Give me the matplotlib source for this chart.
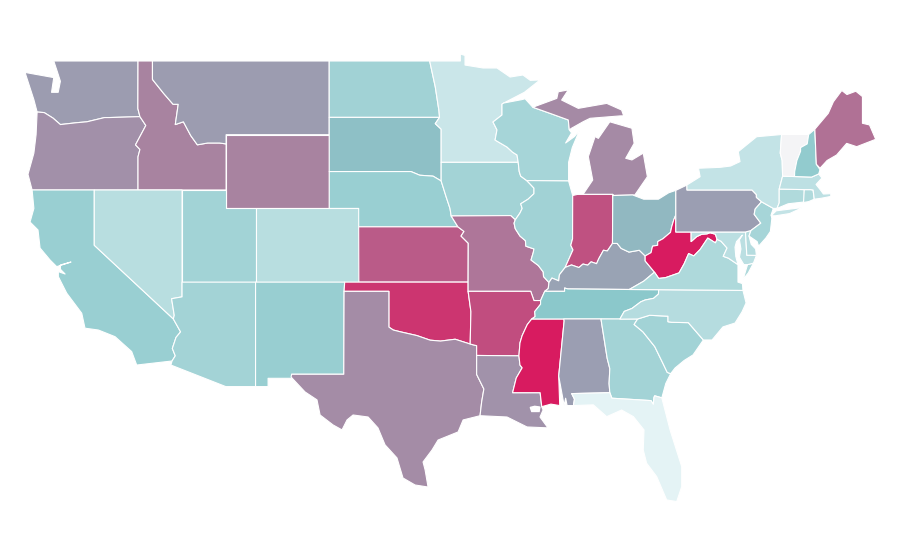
import matplotlib
matplotlib.use("Agg")
import matplotlib.pyplot as plt
from matplotlib.collections import PolyCollection
from matplotlib.colors import LinearSegmentedColormap, Normalize

# -- values per state --
state_names = ["WA", "OR", "CA", "ID", "NV", "MT", "WY", "UT", "AZ", "CO", "NM",
               "ND", "SD", "NE", "KS", "OK", "TX", "MN", "IA", "MO", "AR", "LA",
               "WI", "IL", "MS", "MI", "IN", "KY", "TN", "AL", "OH", "WV", "GA",
               "FL", "SC", "NC", "VA", "MD", "DE", "PA", "NJ", "NY", "CT", "RI",
               "MA", "VT", "NH", "ME"]
state_values = [0.51, 0.557, 0.347, 0.606, 0.229, 0.51, 0.606, 0.316, 0.31, 0.229, 0.35,
                0.32, 0.42, 0.347, 0.754, 0.90, 0.574, 0.164, 0.31, 0.656, 0.81, 0.55,
                0.30, 0.32, 1.0, 0.58, 0.795, 0.49, 0.40, 0.50, 0.44, 1.0, 0.31,
                0.06, 0.316, 0.24, 0.267, 0.217, 0.24, 0.50, 0.30, 0.187, 0.26, 0.26,
                0.21, 0.0, 0.373, 0.672]

# -- shared borders (lon, lat) --
mn_wi = [(-92.2,46.72),(-92.32,46.66),(-92.32,46.07),(-92.93,45.69),(-92.66,45.26),(-92.79,44.71),
         (-91.98,44.33),(-91.6,44.05),(-91.3,43.9),(-91.22,43.5)]
wi_ia = [(-91.22,43.5),(-91.15,43.0),(-91.05,42.75),(-90.64,42.51)]
il_ia = [(-90.64,42.51),(-90.42,42.33),(-90.15,42.1),(-90.15,41.8),(-90.55,41.5),(-91.05,41.25),
         (-90.95,41.0),(-91.1,40.75),(-91.42,40.38)]
il_mo = [(-91.42,40.38),(-91.5,40.2),(-91.42,39.9),(-91.1,39.5),(-90.73,39.25),(-90.7,38.95),
         (-90.15,38.8),(-90.2,38.6),(-90.35,38.2),(-89.85,37.9),(-89.52,37.55),(-89.5,37.3),(-89.13,36.98)]
ky_mo = [(-89.13,36.98),(-89.18,36.65),(-89.42,36.5)]
tn_mo = [(-89.42,36.5),(-89.7,36.0)]
tn_ar = [(-89.7,36.0),(-89.7,35.8),(-90.1,35.4),(-90.07,35.13),(-90.3,35.0)]
ms_ar = [(-90.3,35.0),(-90.6,34.7),(-90.95,34.1),(-91.1,33.7),(-91.17,33.0)]
ms_la = [(-91.17,33.0),(-91.1,32.5),(-90.95,32.35),(-91.35,31.8),(-91.6,31.0),(-89.73,31.0),(-89.62,30.24)]
il_ky = [(-89.13,36.98),(-88.93,37.22),(-88.47,37.07),(-88.42,37.4),(-88.03,37.8)]
in_ky = [(-88.03,37.8),(-87.6,37.93),(-87.1,37.79),(-86.82,37.98),(-86.5,37.92),(-86.27,38.1),
         (-85.9,38.0),(-85.75,38.27),(-85.43,38.73),(-85.17,38.69),(-84.82,39.1)]
oh_ky = [(-84.82,39.1),(-84.5,39.1),(-84.23,38.83),(-83.7,38.63),(-83.0,38.73),(-82.6,38.42)]
oh_wv = [(-82.6,38.42),(-82.2,38.6),(-82.1,38.95),(-81.75,39.0),(-81.75,39.2),(-81.4,39.35),
         (-80.88,39.7),(-80.8,40.0),(-80.65,40.4),(-80.52,40.64)]
ky_wv = [(-82.6,38.42),(-82.6,38.15),(-81.97,37.54)]
ky_va = [(-81.97,37.54),(-82.7,37.05),(-83.68,36.6)]
va_wv = [(-81.97,37.54),(-81.68,37.2),(-81.23,37.24),(-80.3,37.5),(-79.95,38.0),(-79.65,38.55),
         (-79.3,38.42),(-78.87,38.77),(-78.35,39.39),(-77.83,39.13),(-77.72,39.32)]
md_va = [(-77.72,39.32),(-77.45,39.22),(-77.04,38.85),(-77.3,38.4),(-76.95,38.3),(-76.3,37.95)]
md_wv = [(-79.48,39.72),(-79.48,39.2),(-79.1,39.47),(-78.75,39.6),(-78.4,39.62),(-78.2,39.68),
         (-77.83,39.6),(-77.72,39.32)]
nc_tn = [(-81.68,36.59),(-81.7,36.35),(-82.03,36.12),(-82.6,36.03),(-82.9,35.93),(-83.5,35.57),
         (-84.02,35.41),(-84.32,34.99)]
tn_north = [(-89.42,36.5),(-88.07,36.5),(-88.07,36.68),(-87.85,36.63),(-83.68,36.6),(-81.68,36.59)]
al_ga = [(-85.6,35.0),(-85.18,32.87),(-85.0,32.3),(-85.05,31.5),(-85.0,31.0)]
ga_fl = [(-85.0,31.0),(-84.86,30.7),(-82.2,30.57),(-82.05,30.37),(-82.0,30.75),(-81.95,30.83),(-81.47,30.72)]
ms_al = [(-88.13,35.0),(-88.1,34.9),(-88.47,31.9),(-88.4,30.3)]
al_fl = [(-87.47,30.3),(-87.4,30.65),(-87.59,30.95),(-85.0,31.0)]
ga_sc = [(-83.11,35.0),(-83.35,34.7),(-82.75,34.3),(-81.95,33.5),(-81.4,32.6),(-81.1,32.1),(-80.87,32.03)]
sc_nc = [(-83.11,35.0),(-82.3,35.2),(-81.05,35.15),(-81.05,34.85),(-80.8,34.82),(-79.67,34.8),(-78.65,33.86)]
ok_tx = [(-100.0,34.56),(-99.7,34.4),(-99.2,34.3),(-98.1,34.1),(-97.2,33.85),(-96.5,33.8),(-95.5,33.9),(-94.48,33.64)]
la_tx = [(-94.04,33.02),(-94.04,31.99),(-93.55,31.2),(-93.7,30.5),(-93.81,29.75)]
ks_mo = [(-95.31,40.0),(-94.9,39.75),(-95.1,39.5),(-94.61,39.11),(-94.62,37.0)]
ia_ne = [(-96.45,42.49),(-96.1,41.6),(-95.85,41.0),(-95.77,40.59)]
ne_sd = [(-104.05,43.0),(-98.5,43.0),(-97.9,42.8),(-97.0,42.75),(-96.45,42.49)]
mn_dk = [(-97.23,49.0),(-96.85,47.6),(-96.6,46.3),(-96.56,45.94),(-96.85,45.6),(-96.45,45.3),(-96.45,43.5)]
id_mt = [(-116.05,49.0),(-116.05,48.0),(-115.3,47.25),(-114.65,46.65),(-114.3,46.65),(-114.5,45.55),
         (-113.95,45.7),(-113.45,44.95),(-113.0,44.45),(-112.3,44.55),(-111.5,44.55),(-111.05,44.5)]
or_id = [(-117.03,42.0),(-117.03,43.8),(-116.9,44.2),(-117.2,44.45),(-116.5,45.5),(-116.9,45.98)]
or_wa = [(-116.9,45.98),(-119.0,45.93),(-119.3,45.93),(-120.5,45.7),(-121.2,45.65),(-122.3,45.55),
         (-122.8,45.9),(-123.4,46.2),(-123.88,46.23)]
az_ca = [(-114.63,35.0),(-114.14,34.3),(-114.45,34.0),(-114.7,33.4),(-114.5,33.0),(-114.72,32.72)]
az_nv = [(-114.04,37.0),(-114.04,36.2),(-114.75,36.1),(-114.57,35.2),(-114.63,35.0)]
il_wi_east = [(-87.8,42.49),(-87.52,41.7)]
il_in = [(-87.52,41.7),(-87.53,39.35),(-87.65,39.0),(-87.5,38.75),(-88.03,37.8)]
pa_east = [(-75.35,42.0),(-75.05,41.75),(-75.05,41.6),(-74.7,41.36)]
pa_nj = [(-74.7,41.36),(-75.13,40.97),(-75.2,40.68),(-74.75,40.2),(-75.42,39.8)]
ny_vt = [(-73.27,42.75),(-73.3,43.6),(-73.43,44.0),(-73.34,45.01)]
vt_nh = [(-71.5,45.01),(-71.6,44.5),(-72.05,44.3),(-72.05,44.1),(-72.3,43.6),(-72.45,43.0),(-72.46,42.73)]


def rev(line):
    return line[::-1]


# -- state outlines, one or more rings each --
shapes = {
    "WA": [[(-122.75,49.0),(-117.03,49.0),(-117.04,46.42)] + or_wa + [(-124.1,46.9),(-124.7,48.38),
           (-123.1,48.15),(-122.75,48.1),(-122.9,47.3),(-122.45,47.3),(-122.3,47.9),(-122.5,48.4)]],
    "OR": [or_id + or_wa + [(-123.95,45.0),(-124.1,44.0),(-124.5,42.85),(-124.22,42.0)]],
    "CA": [[(-124.22,42.0),(-120.0,42.0),(-120.0,39.0)] + az_ca + [(-117.12,32.5),(-117.46,33.23),(-118.59,34.04),
           (-119.72,34.4),(-120.63,34.5),(-120.85,35.31),(-121.87,36.4),(-122.44,37.3),(-122.44,37.57),
           (-121.98,37.44),(-122.3,37.7),(-122.3,37.93),(-121.58,38.09),(-122.55,37.84),(-123.0,38.2),
           (-123.68,38.85),(-123.82,39.83),(-124.36,40.26),(-124.1,41.0)]],
    "ID": [id_mt + [(-111.05,42.0)] + or_id + [(-117.04,46.42),(-117.03,49.0)]],
    "NV": [[(-120.0,42.0),(-114.04,42.0)] + az_nv + [(-120.0,39.0)]],
    "MT": [id_mt + [(-111.05,45.0),(-104.05,45.0),(-104.05,49.0)]],
    "WY": [[(-111.05,45.0),(-104.05,45.0),(-104.05,41.0),(-111.05,41.0)]],
    "UT": [[(-114.04,42.0),(-111.05,42.0),(-111.05,41.0),(-109.05,41.0),(-109.05,37.0),(-114.04,37.0)]],
    "AZ": [az_nv + az_ca[1:] + [(-114.8,32.5),(-111.07,31.33),(-109.05,31.33),(-109.05,37.0)]],
    "CO": [[(-109.05,41.0),(-102.05,41.0),(-102.05,37.0),(-109.05,37.0)]],
    "NM": [[(-109.05,37.0),(-103.0,37.0),(-103.04,36.5),(-103.06,32.0),(-106.6,32.0),(-106.5,31.78),
            (-108.2,31.78),(-108.2,31.33),(-109.05,31.33)]],
    "ND": [[(-104.05,49.0),(-97.23,49.0),(-96.85,47.6),(-96.6,46.3),(-96.56,45.94),(-104.05,45.94)]],
    "SD": [[(-104.05,45.94),(-96.56,45.94),(-96.85,45.6),(-96.45,45.3),(-96.45,43.5),(-96.45,42.49)] + rev(ne_sd)[1:]],
    "NE": [ne_sd + ia_ne[1:] + [(-95.31,40.0),(-102.05,40.0),(-102.05,41.0),(-104.05,41.0)]],
    "KS": [ks_mo + [(-102.04,37.0),(-102.05,40.0)]],
    "OK": [[(-103.0,37.0),(-94.62,37.0),(-94.62,36.5),(-94.43,35.4)] + rev(ok_tx) + [(-100.0,36.5),(-103.04,36.5)]],
    "TX": [[(-103.04,36.5),(-100.0,36.5)] + ok_tx + [(-94.04,33.55)] + la_tx + [(-94.96,29.52),(-95.3,28.87),
           (-96.66,28.43),(-97.07,27.89),(-97.68,27.24),(-97.54,26.81),(-97.34,25.88),(-98.22,25.99),(-99.04,26.37),
           (-99.45,27.46),(-100.26,28.17),(-100.74,29.09),(-101.41,29.68),(-102.43,29.79),(-102.84,29.52),(-103.18,28.98),
           (-103.79,29.25),(-104.67,29.79),(-104.88,30.61),(-105.69,31.04),(-106.64,31.85),(-106.6,32.0),(-103.06,32.0)]],
    "MN": [[(-97.23,49.0),(-95.15,49.0),(-95.15,49.38),(-94.83,49.3),(-94.83,48.78),(-93.6,48.62),(-92.66,48.62),
            (-91.77,48.13),(-90.9,48.24),(-90.4,47.95),(-89.74,47.97),(-90.8,47.3)] + mn_wi + rev(mn_dk)],
    "IA": [[(-96.45,43.5)] + wi_ia + il_ia + [(-91.73,40.61)] + rev(ia_ne)],
    "MO": [[(-91.73,40.61),(-95.77,40.59)] + ks_mo + [(-94.62,36.5),(-90.37,36.5),(-90.15,36.0)] +
           rev(tn_mo) + rev(ky_mo)[1:] + rev(il_mo)[1:]],
    "AR": [[(-94.62,36.5),(-90.37,36.5),(-90.15,36.0)] + tn_ar + ms_ar[1:] + [(-94.04,33.02),(-94.04,33.55),
           (-94.48,33.64),(-94.43,35.4)]],
    "LA": [la_tx + [(-91.98,29.68),(-90.62,29.14),(-89.2,29.09),(-89.74,29.68),(-89.53,30.06)] + rev(ms_la)],
    "WI": [mn_wi + wi_ia[1:] + [(-87.8,42.49),(-87.8,43.5),(-87.55,44.3),(-87.05,45.25),(-87.4,44.9),(-88.0,44.55),
           (-87.6,45.1),(-87.75,45.26),(-87.82,45.8),(-89.06,46.16),(-90.23,46.49),(-90.75,46.95),(-91.0,46.9)]],
    "IL": [il_ia + il_mo[1:] + il_ky[1:] + rev(il_in) + rev(il_wi_east)],
    "MS": [ms_ar + ms_la[1:] + [(-89.0,30.38),(-88.4,30.3)] + rev(ms_al)],
    "MI": [[(-90.23,46.49),(-88.6,46.97),(-88.5,47.33),(-87.82,47.43),(-88.27,46.88),(-87.14,46.43),(-85.21,46.7),
            (-84.2,46.34),(-84.08,46.07),(-83.63,46.03),(-84.31,46.02),(-86.34,45.89),(-86.8,45.71),(-87.6,45.35),
            (-87.75,45.26),(-87.82,45.8),(-89.06,46.16)],
           [(-86.82,41.76),(-84.8,41.76),(-84.8,41.7),(-83.3,41.73),(-82.45,42.72),(-82.73,44.0),(-83.5,43.63),
            (-83.92,43.72),(-83.35,44.53),(-83.5,45.35),(-85.0,45.7),(-85.78,44.8),(-86.0,44.9),(-86.46,43.81),(-86.16,42.54)]],
    "IN": [[(-87.52,41.7),(-87.2,41.76),(-86.82,41.76),(-84.8,41.76)] + rev(in_ky) + rev(il_in)[1:]],
    "KY": [il_ky + in_ky[1:] + oh_ky[1:] + ky_wv[1:] + ky_va[1:] +
           [(-87.85,36.63),(-88.07,36.68),(-88.07,36.5),(-89.42,36.5),(-89.18,36.65)]],
    "TN": [tn_north + nc_tn[1:] + [(-85.6,35.0),(-88.13,35.0),(-90.3,35.0)] + rev(tn_ar)[1:] + rev(tn_mo)[1:]],
    "AL": [[(-88.13,35.0),(-85.6,35.0)] + al_ga[1:] + rev(al_fl)[1:] + [(-87.9,30.3),(-88.0,30.7),(-88.1,30.3)] + rev(ms_al)[1:]],
    "OH": [[(-84.8,41.76),(-84.8,41.7),(-83.45,41.73),(-82.7,41.5),(-81.7,41.5),(-81.0,41.85),(-80.52,41.98)] +
           rev(oh_wv) + rev(oh_ky)[1:]],
    "WV": [oh_wv + [(-80.52,39.72)] + md_wv + rev(va_wv)[1:] + rev(ky_wv)[1:]],
    "GA": [[(-85.6,35.0),(-83.11,35.0)] + ga_sc[1:] + [(-81.2,31.5)] + rev(ga_fl) + rev(al_ga)[1:]],
    "FL": [al_fl + ga_fl[1:] + [(-80.91,28.98),(-80.12,26.99),(-80.12,25.9),(-80.46,25.09),(-81.14,25.18),
           (-81.82,26.45),(-82.5,27.17),(-82.73,27.89),(-82.68,28.98),(-83.4,29.7),(-84.2,30.06),(-85.21,29.7),(-86.12,30.34)]],
    "SC": [sc_nc + [(-79.35,33.05),(-79.95,32.75),(-80.57,32.34)] + rev(ga_sc)[:-1]],
    "NC": [[(-84.32,34.99)] + rev(nc_tn)[1:] + [(-75.96,36.55),(-75.75,35.87),(-76.03,35.38),(-76.5,34.78),
           (-77.32,34.57),(-78.06,33.86)] + rev(sc_nc)],
    "VA": [[(-83.68,36.6),(-81.68,36.59),(-75.96,36.55),(-76.0,36.92),(-76.3,37.0),(-76.3,37.6)] + rev(md_va) +
           rev(va_wv)[1:] + ky_va[1:]],
    "MD": [[(-79.48,39.72),(-75.79,39.72),(-75.7,38.46),(-75.05,38.45),(-75.25,38.03),(-75.65,37.95),(-75.9,37.95),
            (-76.2,38.35),(-76.1,38.8),(-76.2,39.3),(-76.0,39.55),(-76.4,39.2),(-76.5,38.9),(-76.45,38.4)] +
           rev(md_va) + rev(md_wv)[1:]],
    "DE": [[(-75.79,39.72),(-75.42,39.8),(-75.55,39.5),(-75.4,39.05),(-75.1,38.8),(-75.05,38.45),(-75.7,38.46)]],
    "PA": [[(-80.52,41.98),(-79.76,42.27),(-79.76,42.0)] + pa_east + pa_nj[1:] + [(-75.79,39.72),(-80.52,39.72)]],
    "NJ": [pa_nj + [(-75.55,39.5),(-75.0,39.2),(-74.9,38.95),(-74.4,39.4),(-74.1,39.75),(-74.0,40.45),(-74.05,40.65),(-73.9,41.0)]],
    "NY": [[(-79.77,42.27),(-79.76,42.0)] + pa_east + [(-73.9,41.0),(-73.65,41.0),(-73.5,41.3),(-73.5,42.05)] + ny_vt +
           [(-75.03,44.89),(-76.28,44.08),(-76.16,43.54),(-76.8,43.3),(-77.5,43.23),(-78.98,43.18),(-78.87,42.72)],
           [(-74.05,40.6),(-73.75,40.6),(-72.8,40.72),(-71.9,41.05),(-72.6,40.98),(-73.7,40.87)]],
    "CT": [[(-73.5,42.05),(-71.8,42.02),(-71.8,41.35),(-72.9,41.25),(-73.65,41.0),(-73.5,41.3)]],
    "RI": [[(-71.8,42.02),(-71.38,42.02),(-71.2,42.0),(-71.12,41.5),(-71.5,41.37),(-71.85,41.32)]],
    "MA": [[(-73.5,42.05),(-73.27,42.75),(-72.46,42.73),(-71.3,42.7),(-70.82,42.87),(-70.6,42.65),(-71.0,42.3),
            (-70.65,41.95),(-70.5,41.78),(-70.0,41.8),(-70.0,41.65),(-70.65,41.55),(-71.12,41.5),(-71.2,42.0),
            (-71.38,42.02),(-71.8,42.02)]],
    "VT": [ny_vt + vt_nh],
    "NH": [[(-71.5,45.01),(-71.08,45.3),(-70.98,43.4),(-70.73,43.1),(-70.82,42.87),(-71.3,42.7)] + rev(vt_nh)],
    "ME": [[(-71.08,45.3),(-70.17,46.16),(-69.82,46.79),(-69.25,47.4),(-68.9,47.18),(-68.3,47.36),(-67.85,47.07),
            (-67.85,45.62),(-67.37,45.53),(-66.95,44.75),(-68.24,44.35),(-68.92,44.53),(-69.6,43.9),(-70.25,43.6),
            (-70.73,43.18),(-70.98,43.4)]],
}
# eastern shore of Virginia
shapes["VA"].append([(-75.95,37.15),(-75.65,37.95),(-75.25,38.03),(-75.6,37.5)])

lake_pontchartrain = [(-90.4,30.2),(-90.1,30.26),(-89.75,30.22),(-89.8,29.98),(-90.3,29.98)]


def main():
    cmap = LinearSegmentedColormap.from_list(
        "teal_crimson",
        [(0.0, "#f4f4f6"), (0.06, "#e4f3f5"), (0.4, "#8bc8cb"), (0.5, "#9b9fb2"), (1.0, "#d81b60")])

    rings, vals = [], []
    for name, value in zip(state_names, state_values):
        for ring in shapes[name]:
            rings.append(ring)
            vals.append(value)

    fig = plt.figure(figsize=(9, 5.6), dpi=100)
    ax = fig.add_axes([0, 0, 1, 1])
    coll = PolyCollection(rings, array=vals, cmap=cmap, norm=Normalize(0, 1),
                          edgecolors="white", linewidths=0.8)
    ax.add_collection(coll)
    ax.fill(*zip(*lake_pontchartrain), color="white", zorder=3)

    # plain lon/lat, no projection
    ax.set_xlim(-126.4, -65.3)
    ax.set_ylim(21.92, 52.31)
    ax.axis("off")
    fig.savefig("out.png", dpi=100, facecolor="white")


if __name__ == "__main__":
    main()
